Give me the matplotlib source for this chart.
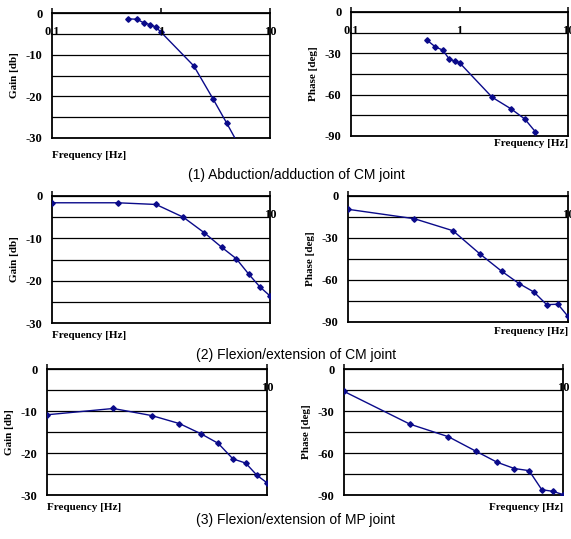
import numpy as np
import matplotlib
matplotlib.use("Agg")
import matplotlib.pyplot as plt
from matplotlib.ticker import MultipleLocator, NullFormatter

plt.rcParams["axes.unicode_minus"] = False

# ---------------------------------------------------------------------------
# Data
# ---------------------------------------------------------------------------
# (1) Abduction/adduction of CM joint
f_abd = [0.5, 0.6, 0.7, 0.8, 0.9, 1.0, 2.0, 3.0, 4.0, 5.0]
gain_abd = [-1.4, -1.5, -2.4, -2.8, -3.4, -4.6, -12.7, -20.6, -26.4, -31.0]
f_abd_ph = [0.5, 0.6, 0.7, 0.8, 0.9, 1.0, 2.0, 3.0, 4.0, 5.0]
phase_abd = [-20.3, -25.4, -27.6, -33.9, -35.6, -36.8, -61.9, -70.4, -77.7, -86.9]

# (2) Flexion/extension of CM joint
f_cm = [1, 2, 3, 4, 5, 6, 7, 8, 9, 10]
gain_cm = [-1.6, -1.6, -2.0, -5.0, -8.7, -12.1, -14.8, -18.5, -21.5, -23.6]
phase_cm = [-9.5, -16.2, -24.8, -41.7, -53.8, -62.6, -68.6, -77.6, -77.3, -86.0]

# (3) Flexion/extension of MP joint
f_mp = [1, 2, 3, 4, 5, 6, 7, 8, 9, 10]
gain_mp = [-10.9, -9.4, -11.1, -13.0, -15.4, -17.7, -21.4, -22.4, -25.3, -27.1]
phase_mp = [-16.0, -39.4, -48.4, -58.7, -66.6, -71.1, -72.6, -86.2, -87.4, -89.7]

captions = ["(1) Abduction/adduction of CM joint",
            "(2) Flexion/extension of CM joint",
            "(3) Flexion/extension of MP joint"]

W, H = 571, 539
SERIF = "Liberation Serif"
SANS = "Liberation Sans"
NAVY = "#0a0a8a"


def px_box(left, right, top, bottom):
    """Axes rectangle from pixel edges."""
    return [left / W, 1 - bottom / H, (right - left) / W, (bottom - top) / H]


def bode_panel(ax, freq, vals, kind, xlim, xlabels):
    if kind == "gain":
        ymin, step, ylab, lab_y = -30, 5, "Gain [db]", -4.5
    else:
        ymin, step, ylab, lab_y = -90, 15, "Phase [deg]", -13.5

    ax.plot(freq, vals, color=NAVY, lw=1.0, marker="D", ms=2.8,
            mfc=NAVY, mec=NAVY, zorder=3)

    ax.set_xscale("log")
    ax.set_xlim(*xlim)
    ax.set_ylim(ymin, 0)
    ax.yaxis.set_major_locator(MultipleLocator(2 * step))
    ax.yaxis.set_minor_locator(MultipleLocator(step))
    ax.grid(True, axis="y", which="both", color="black", lw=0.9)
    ax.set_axisbelow(True)

    # x axis: ticks on top pointing out, labels sit on the first grid line
    ax.xaxis.set_ticks_position("top")
    ax.set_xticks([t for t in (0.1, 1, 10) if xlim[0] <= t <= xlim[1]])
    ax.xaxis.set_minor_formatter(NullFormatter())
    ax.tick_params(axis="x", which="major", direction="out", length=3.5,
                   width=1.1, labeltop=False, labelbottom=False)
    ax.tick_params(axis="x", which="minor", length=0)
    for t, s in xlabels:
        ax.text(t, lab_y, s, ha="center", va="center", fontsize=9,
                fontweight="bold", family=SERIF, clip_on=False)

    ax.tick_params(axis="y", which="both", length=0, pad=7)
    for lbl in ax.get_yticklabels():
        lbl.set_fontfamily(SERIF)
        lbl.set_fontweight("bold")
        lbl.set_fontsize(9)
    ax.set_ylabel(ylab, family=SERIF, fontweight="bold", fontsize=8,
                  labelpad=5)
    for sp in ax.spines.values():
        sp.set_linewidth(1.3)


fig = plt.figure(figsize=(W / 100, H / 100), dpi=100)

panels = [
    (px_box(52, 270, 13, 138), f_abd, gain_abd, "gain", (0.1, 10),
     [(0.1, "0.1"), (1, "1"), (10, "10")]),
    (px_box(351, 568, 12, 136), f_abd_ph, phase_abd, "phase", (0.1, 10),
     [(0.1, "0.1"), (1, "1"), (10, "10")]),
    (px_box(52, 270, 196, 323), f_cm, gain_cm, "gain", (1, 10), [(10, "10")]),
    (px_box(348, 568, 196, 322), f_cm, phase_cm, "phase", (1, 10), [(10, "10")]),
    (px_box(47, 267, 369, 495), f_mp, gain_mp, "gain", (1, 10), [(10, "10")]),
    (px_box(344, 563, 369, 495), f_mp, phase_mp, "phase", (1, 10), [(10, "10")]),
]
for box, fr, v, kind, xl, xlab in panels:
    ax = fig.add_axes(box)
    bode_panel(ax, fr, v, kind, xl, xlab)

# "Frequency [Hz]" labels: left under gain plots, right under phase plots
freq_pos = [(52, 155, "left"), (568, 143, "right"),
            (52, 336, "left"), (568, 332, "right"),
            (47, 507, "left"), (563, 507, "right")]
for x, y, ha in freq_pos:
    fig.text(x / W, 1 - y / H, "Frequency [Hz]", ha=ha, va="center",
             family=SERIF, fontweight="bold", fontsize=8)

for cap, y in zip(captions, [175, 355, 520]):
    fig.text(296 / W, 1 - y / H, cap, ha="center", va="center",
             family=SANS, fontsize=10)

fig.savefig("out.png", dpi=100)
